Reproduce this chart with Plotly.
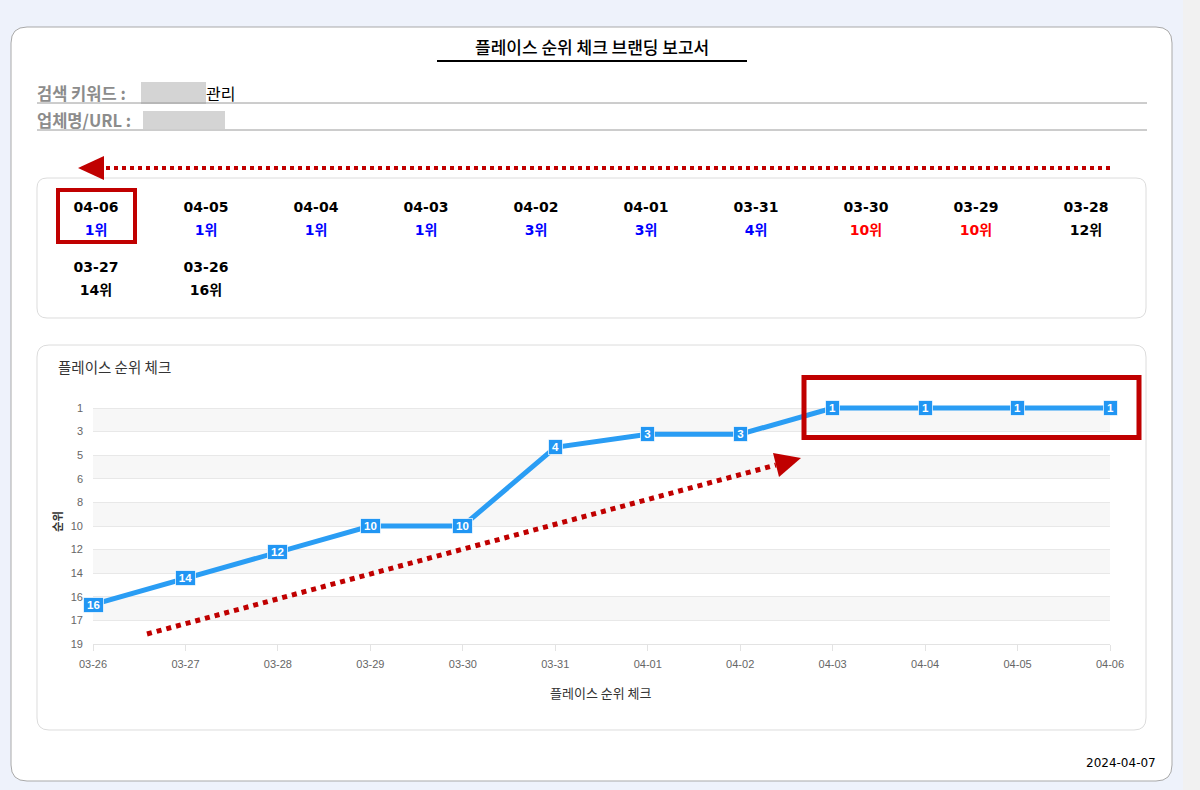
import plotly.graph_objects as go

W, H = 1200, 790

# ---------------- data ----------------
report_title = "플레이스 순위 체크 브랜딩 보고서"
keyword_label = "검색 키워드 :"
keyword_suffix = "관리"
company_label = "업체명/URL :"
chart_title = "플레이스 순위 체크"
x_axis_title = "플레이스 순위 체크"
y_axis_title = "순위"
report_date = "2024-04-07"
rank_suffix = "위"

dates = ["03-26", "03-27", "03-28", "03-29", "03-30", "03-31",
         "04-01", "04-02", "04-03", "04-04", "04-05", "04-06"]
ranks = [16, 14, 12, 10, 10, 4, 3, 3, 1, 1, 1, 1]
y_tick_labels = ["1", "3", "5", "6", "8", "10", "12", "14", "16", "17", "19"]
y_min, y_max = 1, 19

# ---------------- style ----------------
KR = "Noto Sans CJK KR"
BG = "#eef2fb"
RED = "#c00000"
LINE_BLUE = "#2a9df4"
BOX_BLUE = "#2196f3"


def px(x):
    return x / W


def py(y):
    return 1 - y / H


def rrect(x0, y0, x1, y1, r):
    pts = [
        ("M", [(x0 + r, y0)]), ("L", [(x1 - r, y0)]), ("Q", [(x1, y0), (x1, y0 + r)]),
        ("L", [(x1, y1 - r)]), ("Q", [(x1, y1), (x1 - r, y1)]), ("L", [(x0 + r, y1)]),
        ("Q", [(x0, y1), (x0, y1 - r)]), ("L", [(x0, y0 + r)]), ("Q", [(x0, y0), (x0 + r, y0)]),
    ]
    s = ""
    for cmd, ps in pts:
        s += cmd + " " + " ".join(f"{px(a):.5f},{py(b):.5f}" for a, b in ps) + " "
    return s + "Z"


def poly(points):
    return "M " + " L ".join(f"{px(a):.5f},{py(b):.5f}" for a, b in points) + " Z"


def rank_color(r):
    if r <= 5:
        return "#0000ff"
    if r <= 10:
        return "#ff0000"
    return "#000000"


shapes = []
annotations = []

# page background cards
shapes.append(dict(type="rect", xref="paper", yref="paper", x0=px(1183), x1=1, y0=0, y1=1,
                   fillcolor="#f1f1f1", line=dict(width=0), layer="below"))
shapes.append(dict(type="path", xref="paper", yref="paper", path=rrect(11, 27, 1172, 781, 16),
                   fillcolor="#ffffff", line=dict(color="#a9a9a9", width=1), layer="below"))
shapes.append(dict(type="path", xref="paper", yref="paper", path=rrect(37, 178, 1146, 318, 10),
                   fillcolor="#ffffff", line=dict(color="#dcdcdc", width=1), layer="below"))
shapes.append(dict(type="path", xref="paper", yref="paper", path=rrect(37, 345, 1146, 730, 12),
                   fillcolor="#ffffff", line=dict(color="#dcdcdc", width=1), layer="below"))

# header
annotations.append(dict(text=report_title, xref="paper", yref="paper", x=px(592), y=py(47),
                        xanchor="center", yanchor="middle", showarrow=False,
                        font=dict(family=KR, size=17, color="#000", weight=500)))
shapes.append(dict(type="line", xref="paper", yref="paper", x0=px(437), x1=px(747), y0=py(61), y1=py(61),
                   line=dict(color="#000", width=2)))
shapes.append(dict(type="rect", xref="paper", yref="paper", x0=px(141), x1=px(206), y0=py(104), y1=py(82),
                   fillcolor="#d4d4d4", line=dict(width=0)))
shapes.append(dict(type="rect", xref="paper", yref="paper", x0=px(143), x1=px(225), y0=py(129), y1=py(111),
                   fillcolor="#d4d4d4", line=dict(width=0)))
for yy in (103, 130):
    shapes.append(dict(type="line", xref="paper", yref="paper", x0=px(37), x1=px(1147), y0=py(yy), y1=py(yy),
                       line=dict(color="#9a9a9a", width=1)))
annotations.append(dict(text=keyword_label, xref="paper", yref="paper", x=px(35), y=py(93),
                        xanchor="left", yanchor="middle", showarrow=False,
                        font=dict(family=KR, size=16.5, color="#8c8c8c", weight="bold")))
annotations.append(dict(text=keyword_suffix, xref="paper", yref="paper", x=px(204), y=py(93),
                        xanchor="left", yanchor="middle", showarrow=False,
                        font=dict(family=KR, size=16, color="#000")))
annotations.append(dict(text=company_label, xref="paper", yref="paper", x=px(35), y=py(120),
                        xanchor="left", yanchor="middle", showarrow=False,
                        font=dict(family=KR, size=16.5, color="#8c8c8c", weight="bold")))

# top dotted arrow
shapes.append(dict(type="line", xref="paper", yref="paper", x0=px(1110), x1=px(104), y0=py(168), y1=py(168),
                   line=dict(color=RED, width=4, dash="4px,4px")))
shapes.append(dict(type="path", xref="paper", yref="paper", path=poly([(78, 168), (104, 156), (104, 180)]),
                   fillcolor=RED, line=dict(width=0)))

# highlight box around latest date
shapes.append(dict(type="rect", xref="paper", yref="paper", x0=px(58), x1=px(135), y0=py(242), y1=py(190),
                   line=dict(color=RED, width=4)))

# chart card title / axis titles / footer
annotations.append(dict(text=chart_title, xref="paper", yref="paper", x=px(56), y=py(366),
                        xanchor="left", yanchor="middle", showarrow=False,
                        font=dict(family=KR, size=14.5, color="#333")))
annotations.append(dict(text=x_axis_title, xref="paper", yref="paper", x=px(601), y=py(692),
                        xanchor="center", yanchor="middle", showarrow=False,
                        font=dict(family=KR, size=13, color="#333")))
annotations.append(dict(text=y_axis_title, xref="paper", yref="paper", x=px(57), y=py(522),
                        xanchor="center", yanchor="middle", showarrow=False, textangle=-90,
                        font=dict(family=KR, size=11.5, color="#333", weight="bold")))
annotations.append(dict(text=report_date, xref="paper", yref="paper", x=px(1158), y=py(763),
                        xanchor="right", yanchor="middle", showarrow=False,
                        font=dict(family="DejaVu Sans", size=12, color="#000")))

# y ticks (evenly spaced across range)
n_t = len(y_tick_labels)
tickvals = [y_min + k * (y_max - y_min) / (n_t - 1) for k in range(n_t)]

# y axis: 1 at 408px, 19 at 644px; extend range a little above 1 so the line isn't clipped
Y_TOP_PX, Y_BOT_PX = 408, 644
unit = (Y_BOT_PX - Y_TOP_PX) / (y_max - y_min)
pad = 0.6
y_range = [y_max, y_min - pad]
y_domain = [py(Y_BOT_PX), py(Y_TOP_PX - pad * unit)]

# alternating bands
for k in range(0, n_t - 1, 2):
    shapes.append(dict(type="rect", xref="x domain", yref="y", x0=0, x1=1,
                       y0=tickvals[k], y1=tickvals[k + 1], fillcolor="#f7f7f7",
                       line=dict(width=0), layer="below"))

# diagonal dotted arrow
shapes.append(dict(type="line", xref="paper", yref="paper", x0=px(147), y0=py(634), x1=px(776), y1=py(465),
                   line=dict(color=RED, width=5, dash="5px,5px")))
shapes.append(dict(type="path", xref="paper", yref="paper",
                   path=poly([(801, 458), (773, 453), (779, 477)]),
                   fillcolor=RED, line=dict(width=0)))
# highlight box in chart
shapes.append(dict(type="rect", xref="paper", yref="paper", x0=px(804), x1=px(1139), y0=py(437.5), y1=py(377.5),
                   line=dict(color=RED, width=5)))

# point labels
for d, r in zip(dates, ranks):
    annotations.append(dict(text=f"<b>{r}</b>", x=d, y=r, xref="x", yref="y", showarrow=False,
                            bgcolor=BOX_BLUE, bordercolor="rgba(255,255,255,0.7)", borderwidth=1,
                            borderpad=1, width=11 if len(str(r)) == 1 else 17, height=12,
                            font=dict(family="Liberation Sans", size=11.5, color="#ffffff")))

fig = go.Figure()

fig.add_trace(go.Scatter(x=dates, y=ranks, mode="lines", line=dict(color=LINE_BLUE, width=5),
                         cliponaxis=False, hoverinfo="skip", showlegend=False))

# date / rank grid (newest first, 10 per row)
order = list(reversed(range(len(dates))))
gx, gy_d, gy_r, d_text, r_text, r_col = [], [], [], [], [], []
for i, idx in enumerate(order):
    col, row = i % 10, i // 10
    gx.append(col)
    gy_d.append(30 + 60 * row)
    gy_r.append(53 + 60 * row)
    d_text.append(dates[idx])
    r_text.append(f"{ranks[idx]}{rank_suffix}")
    r_col.append(rank_color(ranks[idx]))

fig.add_trace(go.Scatter(x=gx, y=gy_d, text=d_text, mode="text", xaxis="x2", yaxis="y2",
                         textfont=dict(family="DejaVu Sans", size=14, color="#000", weight="bold"),
                         hoverinfo="skip", showlegend=False))
fig.add_trace(go.Scatter(x=gx, y=gy_r, text=r_text, mode="text", xaxis="x2", yaxis="y2",
                         textfont=dict(family="DejaVu Sans, " + KR, size=14, color=r_col, weight="bold"),
                         hoverinfo="skip", showlegend=False))

fig.update_layout(
    width=W, height=H, autosize=False,
    margin=dict(l=0, r=0, t=0, b=0, pad=0, autoexpand=False),
    paper_bgcolor=BG, plot_bgcolor="rgba(0,0,0,0)",
    showlegend=False,
    xaxis=dict(domain=[px(93), px(1110)], type="category", categoryorder="array", categoryarray=dates,
               range=[0, len(dates) - 1], showgrid=False, zeroline=False, automargin=False,
               showline=True, linecolor="#e3e3e3", linewidth=1,
               ticks="outside", ticklen=6, tickcolor="#e3e3e3", ticklabelstandoff=4,
               tickfont=dict(family="Liberation Sans", size=11, color="#666"), fixedrange=True),
    yaxis=dict(domain=y_domain, range=y_range, tickmode="array", automargin=False,
               tickvals=tickvals, ticktext=y_tick_labels, showgrid=True, gridcolor="#e8e8e8",
               zeroline=False, showline=False, ticks="", ticklabelstandoff=9,
               tickfont=dict(family="Liberation Sans", size=11, color="#666"), fixedrange=True),
    xaxis2=dict(domain=[px(41), px(1141)], range=[-0.5, 9.5], visible=False, fixedrange=True,
                automargin=False),
    yaxis2=dict(domain=[py(318), py(178)], range=[140, 0], visible=False, fixedrange=True,
                automargin=False),
    shapes=shapes,
    annotations=annotations,
)

fig.write_html("out.html", config={"displayModeBar": False},
               post_script="document.body.style.margin='0';document.body.style.overflow='hidden';"
                           "document.documentElement.style.overflow='hidden';")
